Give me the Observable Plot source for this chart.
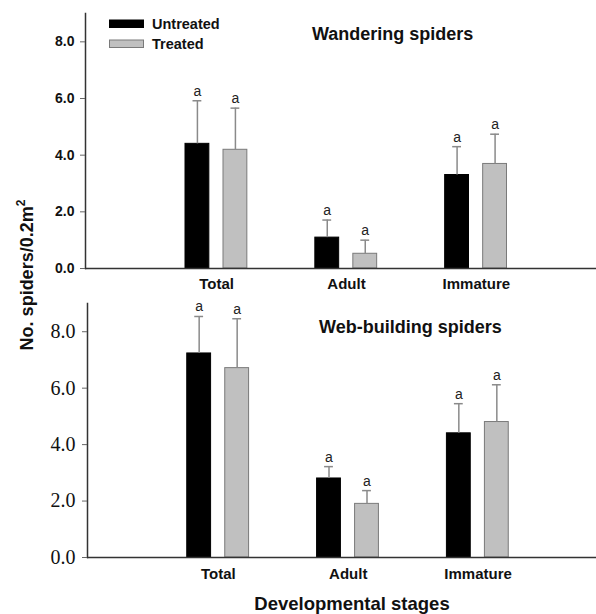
<!DOCTYPE html>
<html><head><meta charset="utf-8">
<script src="https://cdn.jsdelivr.net/npm/d3@7"></script>
<script src="https://cdn.jsdelivr.net/npm/@observablehq/plot@0.6"></script>
<style>
body{margin:0;background:#fff;}
#chart{position:relative;width:596px;height:614px;background:#fff;overflow:hidden;}
#chart > svg{position:absolute;left:0;}
</style></head><body><div id="chart"></div>
<script>
const stages = ["Total", "Adult", "Immature"];
const treatments = ["Untreated", "Treated"];
const wanderingUntreated = [4.40, 1.09, 3.30];
const wanderingUntreatedSE = [1.52, 0.62, 1.00];
const wanderingTreated = [4.19, 0.52, 3.69];
const wanderingTreatedSE = [1.47, 0.48, 1.05];
const webUntreated = [7.23, 2.80, 4.40];
const webUntreatedSE = [1.31, 0.42, 1.05];
const webTreated = [6.71, 1.90, 4.80];
const webTreatedSE = [1.75, 0.47, 1.32];
const untreatedLetters = ["a", "a", "a"];
const treatedLetters = ["a", "a", "a"];
const yTicks = [0, 2, 4, 6, 8];
const panelTitles = ["Wandering spiders", "Web-building spiders"];
const yTitle = "No. spiders/0.2m";
const xTitle = "Developmental stages";

const SANS = "Arial, 'Liberation Sans', sans-serif";
const SERIF = "'Times New Roman', 'Liberation Serif', serif";
const ERR = "#8a8a8a";

function rows(values, se, letters, treatment) {
  return stages.map((s, i) => ({stage: s, treatment, value: values[i], se: se[i], letter: letters[i]}));
}

function panel(o) {
  const U = rows(o.untreated, o.untreatedSE, untreatedLetters, treatments[0]);
  const T = rows(o.treated, o.treatedSE, treatedLetters, treatments[1]);
  const top = d => d.value + d.se;
  const errMarks = (D, dx) => [
    Plot.ruleX(D, {x: "stage", y1: "value", y2: top, dx, stroke: ERR, strokeWidth: 1.5}),
    Plot.tickY(D, {x: "stage", y: top, dx, insetLeft: 60.5, insetRight: 60.5, stroke: ERR, strokeWidth: 1.5}),
    Plot.text(D, {x: "stage", y: top, dx, dy: -5, text: "letter", lineAnchor: "bottom", fontSize: 14, fill: "#222", fontFamily: SANS})
  ];
  return Plot.plot({
    width: 596,
    height: o.height,
    marginLeft: o.marginLeft,
    marginRight: 0,
    marginTop: o.marginTop,
    marginBottom: o.marginBottom,
    style: {fontFamily: SANS, background: "white", overflow: "visible"},
    x: {domain: stages, padding: 0, round: false, insetLeft: o.insetLeft, insetRight: o.insetRight},
    y: {domain: [0, 9]},
    marks: [
      Plot.barY(U, {x: "stage", y: "value", fill: "#000", stroke: "#000", insetLeft: 33.75, insetRight: 72.25}),
      Plot.barY(T, {x: "stage", y: "value", fill: "#c0c0c0", stroke: "#7a7a7a", insetLeft: 71.75, insetRight: 34.25}),
      ...errMarks(U, -19.25),
      ...errMarks(T, 18.75),
      Plot.ruleY([0], {stroke: "#333", strokeWidth: 1.5}),
      Plot.frame({anchor: "left", stroke: "#333", strokeWidth: 1.5}),
      Plot.axisY({ticks: yTicks, tickFormat: d3.format(".1f"), tickSize: 5, tickPadding: o.tickPadding, label: null,
        fontSize: o.tickFontSize, fontFamily: o.tickFont, fontWeight: o.tickWeight, fill: "#111", stroke: "#666"}),
      Plot.axisX({tickSize: 0, tickPadding: o.xPadding, label: null, fontSize: 15, fontWeight: "bold", fill: "#111"})
    ]
  });
}

const chart = document.getElementById("chart");

const p1 = panel({
  untreated: wanderingUntreated, untreatedSE: wanderingUntreatedSE,
  treated: wanderingTreated, treatedSE: wanderingTreatedSE,
  height: 296, marginTop: 13, marginBottom: 28, marginLeft: 85,
  insetLeft: 66.25, insetRight: 55.25,
  tickFont: SANS, tickFontSize: 14, tickWeight: "bold", tickPadding: 6, xPadding: 10
});
p1.style.top = "0px";
chart.appendChild(p1);

const p2 = panel({
  untreated: webUntreated, untreatedSE: webUntreatedSE,
  treated: webTreated, treatedSE: webTreatedSE,
  height: 318, marginTop: 7, marginBottom: 57, marginLeft: 87,
  insetLeft: 66, insetRight: 53.5,
  tickFont: SERIF, tickFontSize: 20, tickWeight: "normal", tickPadding: 7, xPadding: 11
});
p2.style.top = "296px";
chart.appendChild(p2);

// Overlay: legend, panel titles, axis titles
const ns = "http://www.w3.org/2000/svg";
const ov = document.createElementNS(ns, "svg");
ov.setAttribute("width", 596); ov.setAttribute("height", 614);
ov.style.top = "0px"; ov.style.pointerEvents = "none";
ov.setAttribute("font-family", SANS);
function el(tag, attrs, text) {
  const e = document.createElementNS(ns, tag);
  for (const k in attrs) e.setAttribute(k, attrs[k]);
  if (text != null) e.textContent = text;
  ov.appendChild(e);
  return e;
}
const legendFill = ["#000", "#c0c0c0"], legendStroke = ["#000", "#7a7a7a"];
treatments.forEach((t, i) => {
  el("rect", {x: 109.5, y: 20 + i * 20, width: 34, height: 7.5, fill: legendFill[i], stroke: legendStroke[i]});
  el("text", {x: 152, y: 29 + i * 20, "font-size": 14.5, "font-weight": "bold", fill: "#111"}, t);
});
el("text", {x: 312, y: 40, "font-size": 18, "font-weight": "bold", fill: "#111"}, panelTitles[0]);
el("text", {x: 319, y: 333, "font-size": 18, "font-weight": "bold", fill: "#111"}, panelTitles[1]);
el("text", {x: 352, y: 610, "font-size": 18.5, "font-weight": "bold", fill: "#111", "text-anchor": "middle"}, xTitle);
const yt = el("text", {transform: "translate(33,275) rotate(-90)", "font-size": 18, "font-weight": "bold", fill: "#111", "text-anchor": "middle"}, yTitle);
const sup = document.createElementNS(ns, "tspan");
sup.setAttribute("dy", -8); sup.setAttribute("font-size", 12); sup.textContent = "2";
yt.appendChild(sup);
chart.appendChild(ov);
</script></body></html>
